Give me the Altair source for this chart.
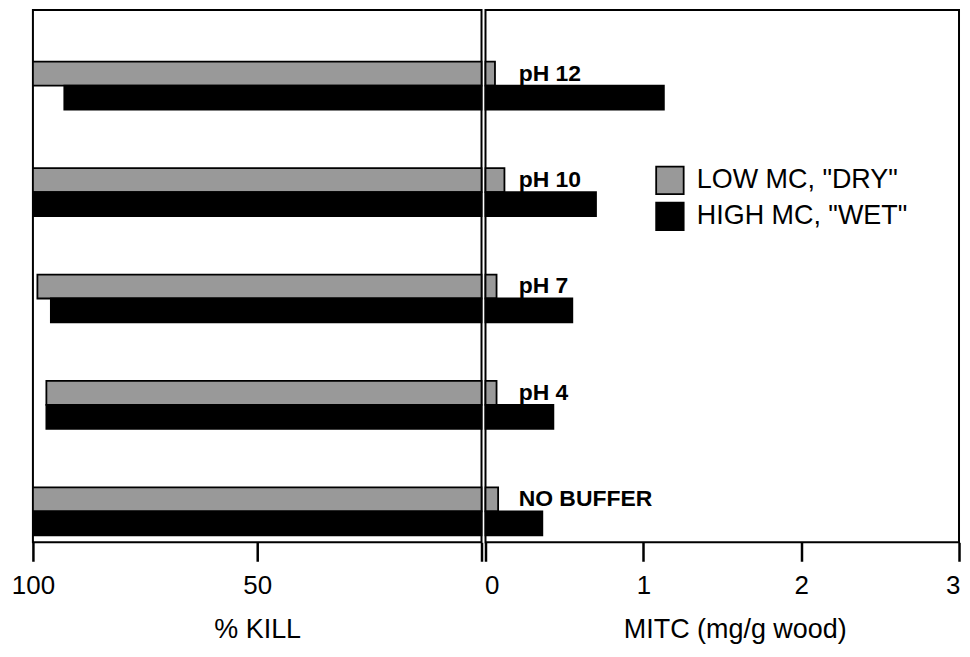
import altair as alt
import pandas as pd

categories = ["pH 12", "pH 10", "pH 7", "pH 4", "NO BUFFER"]
series = ['LOW MC, "DRY"', 'HIGH MC, "WET"']
kill_dry = [100, 100, 99, 97, 100]
kill_wet = [93, 100, 96, 97, 100]
mitc_dry = [0.06, 0.12, 0.07, 0.07, 0.08]
mitc_wet = [1.13, 0.70, 0.55, 0.43, 0.36]
kill_ticks = [100, 50, 0]
mitc_ticks = [0, 1, 2, 3]
colors = ["#999999", "#000000"]

rows = []
for i, c in enumerate(categories):
    rows.append({"category": c, "series": series[0], "kill": kill_dry[i], "mitc": mitc_dry[i]})
    rows.append({"category": c, "series": series[1], "kill": kill_wet[i], "mitc": mitc_wet[i]})
df = pd.DataFrame(rows)
labels_df = pd.DataFrame({"category": categories, "series": [series[0]] * len(categories)})

FONT = "Liberation Sans"

yscale = alt.Scale(domain=categories, paddingInner=0.55, paddingOuter=0.276, align=0.88)
y_enc = alt.Y("category:N", sort=categories, scale=yscale, axis=None)


def yoff():
    return alt.YOffset("series:N", sort=series,
                       scale=alt.Scale(domain=series, paddingInner=0, paddingOuter=0))


color_scale = alt.Scale(domain=series, range=colors)

left = alt.Chart(df).mark_bar(stroke="black", strokeWidth=1.8).encode(
    x=alt.X("kill:Q", scale=alt.Scale(domain=[0, 100], reverse=True, nice=False),
            axis=alt.Axis(values=kill_ticks, format="d", title="% KILL", labelFlush=False,
                          labelExpr="datum.value == 0 ? '' : datum.label")),
    y=y_enc,
    yOffset=yoff(),
    color=alt.Color("series:N", scale=color_scale, legend=None),
).properties(width=450, height=534)

bars_r = alt.Chart(df).mark_bar(stroke="black", strokeWidth=1.8).encode(
    x=alt.X("mitc:Q", scale=alt.Scale(domain=[0, 3], nice=False),
            axis=alt.Axis(values=mitc_ticks, format="d", title="MITC (mg/g wood)", titleX=250,
                          labelFlush=True, labelFlushOffset=1)),
    y=y_enc,
    yOffset=yoff(),
    color=alt.Color("series:N", scale=color_scale,
                    legend=alt.Legend(title=None, orient="none", legendX=170, legendY=156,
                                      symbolType="square", symbolSize=760,
                                      symbolStrokeColor="black", symbolStrokeWidth=1.8,
                                      symbolOpacity=1, labelLimit=400,
                                      labelFont=FONT, labelFontSize=27, labelColor="black",
                                      labelOffset=12, rowPadding=0, padding=0)),
)

text_r = alt.Chart(labels_df).mark_text(
    align="left", baseline="middle", font=FONT, fontSize=23, fontWeight="bold", color="black"
).encode(
    x=alt.datum(0.21),
    y=y_enc,
    yOffset=yoff(),
    text="category:N",
)

right = alt.layer(bars_r, text_r).properties(width=475, height=534)

chart = alt.hconcat(left, right, spacing=4, bounds="flush").resolve_legend(color="independent").properties(
    padding={"left": 2, "top": 0, "right": 0, "bottom": 0}
).configure_view(
    stroke="black", strokeWidth=2
).configure_axis(
    domain=False, grid=False, ticks=True, tickColor="black", tickWidth=2.5, tickSize=19,
    labelFont=FONT, labelFontSize=26, labelColor="black", labelPadding=11,
    titleFont=FONT, titleFontSize=27, titleFontWeight="normal", titleColor="black", titlePadding=18,
    labelOverlap=False,
)

chart.save("out.html", embed_options={"renderer": "svg", "actions": False})
